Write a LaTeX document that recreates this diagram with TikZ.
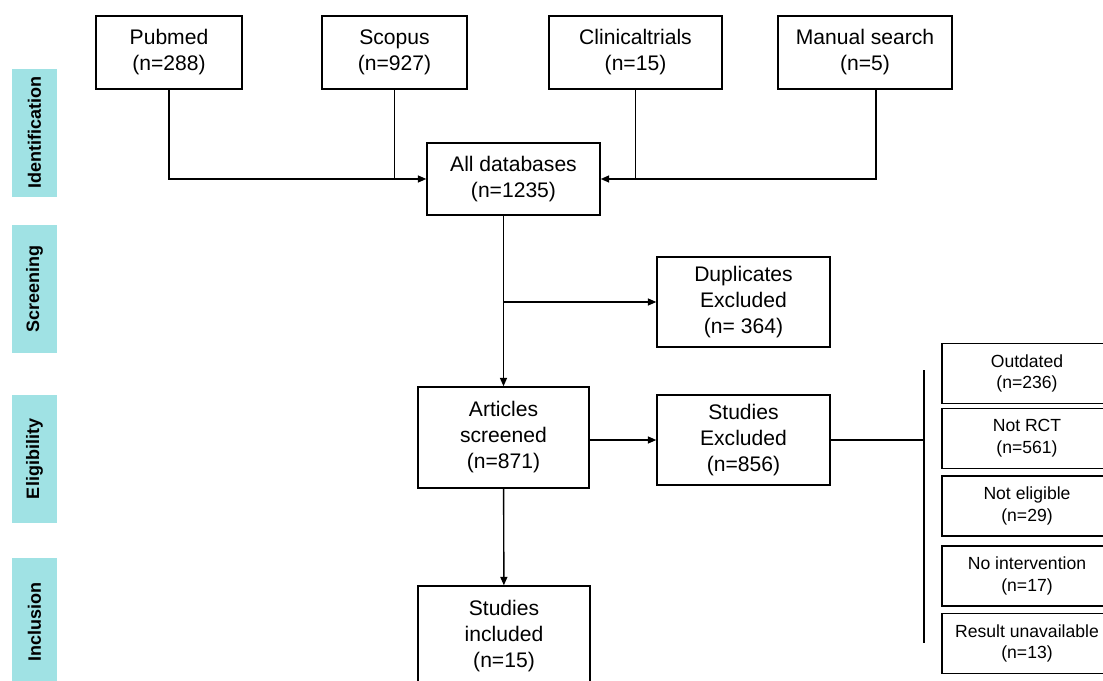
\documentclass[tikz,border=0pt]{standalone}
\usepackage{fontspec}
\setmainfont{Liberation Sans}
\usepackage{tikz}
\usetikzlibrary{arrows.meta,positioning}
\definecolor{stagecyan}{RGB}{160,226,228}
\tikzset{>={Triangle[length=6pt,width=5pt]}}
\tikzset{
    flowbox/.style={rectangle,draw,line width=1pt,align=center,inner sep=0pt,font=\fontsize{15}{18.5}\selectfont},
    reasonbox/.style={flowbox,font=\fontsize{12.5}{15.5}\selectfont,minimum width=4.25cm,minimum height=1.5cm},
    stagebar/.style={rectangle,fill=stagecyan,rotate=90,minimum width=3.2cm,minimum height=1.125cm,inner sep=0pt,font=\bfseries\fontsize{12.8}{15}\selectfont},
    directed/.style={arrows={->},line width=1pt},
    plain/.style={line width=1pt},
}

\begin{document}
\begin{tikzpicture}[x=0.025cm,y=-0.025cm]
		\useasboundingbox (0,0) rectangle (1103,681);

		\node[stagebar] (ident) at (34.5,133) {Identification};
		\node[stagebar] (screen) at (34.5,289) {Screening};
		\node[stagebar] (elig) at (34.5,459) {Eligibility};
		\node[stagebar] (incl) at (34.5,622) {Inclusion};

		\node[flowbox,minimum width=3.65cm,minimum height=1.825cm] (pubmed) at (169,52.5) {Pubmed\\(n=288)};
		\node[flowbox,minimum width=3.625cm,minimum height=1.825cm] (scopus) at (394.5,52.5) {Scopus\\(n=927)};
		\node[flowbox,minimum width=4.325cm,minimum height=1.825cm] (clinical) at (635.5,52.5) {Clinicaltrials\\(n=15)};
		\node[flowbox,minimum width=4.35cm,minimum height=1.825cm] (manual) at (865,52.5) {Manual search\\(n=5)};

		\node[flowbox,minimum width=4.325cm,minimum height=1.8cm] (alldb) at (513.5,179) {All databases\\(n=1235)};
		\node[flowbox,minimum width=4.325cm,minimum height=2.25cm] (dupl) at (743.5,302) {Duplicates\\Excluded\\(n= 364)};
		\node[flowbox,minimum width=4.275cm,minimum height=2.525cm] (articles) at (503.5,437.5) {Articles\\screened\\(n=871)};
		\node[flowbox,minimum width=4.325cm,minimum height=2.25cm] (excl) at (743.5,440) {Studies\\Excluded\\(n=856)};
		\node[flowbox,minimum width=4.3cm,minimum height=2.5cm] (included) at (504,636) {Studies\\included\\(n=15)};

		\node[reasonbox] (outdated) at (1027,373.5) {Outdated\\(n=236)};
		\node[reasonbox] (notrct) at (1027,438.5) {Not RCT\\(n=561)};
		\node[reasonbox] (noteligible) at (1027,506) {Not eligible\\(n=29)};
		\node[reasonbox] (nointerv) at (1027,576) {No intervention\\(n=17)};
		\node[reasonbox] (noresult) at (1027,643.5) {Result unavailable\\(n=13)};

		\coordinate (split) at (articles.north |- dupl.west);
		\coordinate (bracket) at (924,440);
		\coordinate (brtop) at (924,370);
		\coordinate (brbot) at (924,643);

		\draw[directed] (pubmed) |- (alldb);
		\draw[plain] (scopus) -- (scopus |- alldb);
		\draw[plain] (clinical) -- (clinical |- alldb);
		\draw[directed] ([xshift=0.275cm]manual.south) |- (alldb);
		\draw[directed] (alldb.south -| articles.north) -- (articles);
		\draw[directed] (split) -- (dupl);
		\draw[directed] (articles.east |- excl.west) -- (excl);
		\draw[plain] (excl) -- (bracket);
		\draw[plain] (brtop) -- (brbot);
		\draw[directed] (articles) -- (included);
	\end{tikzpicture}
\end{document}
